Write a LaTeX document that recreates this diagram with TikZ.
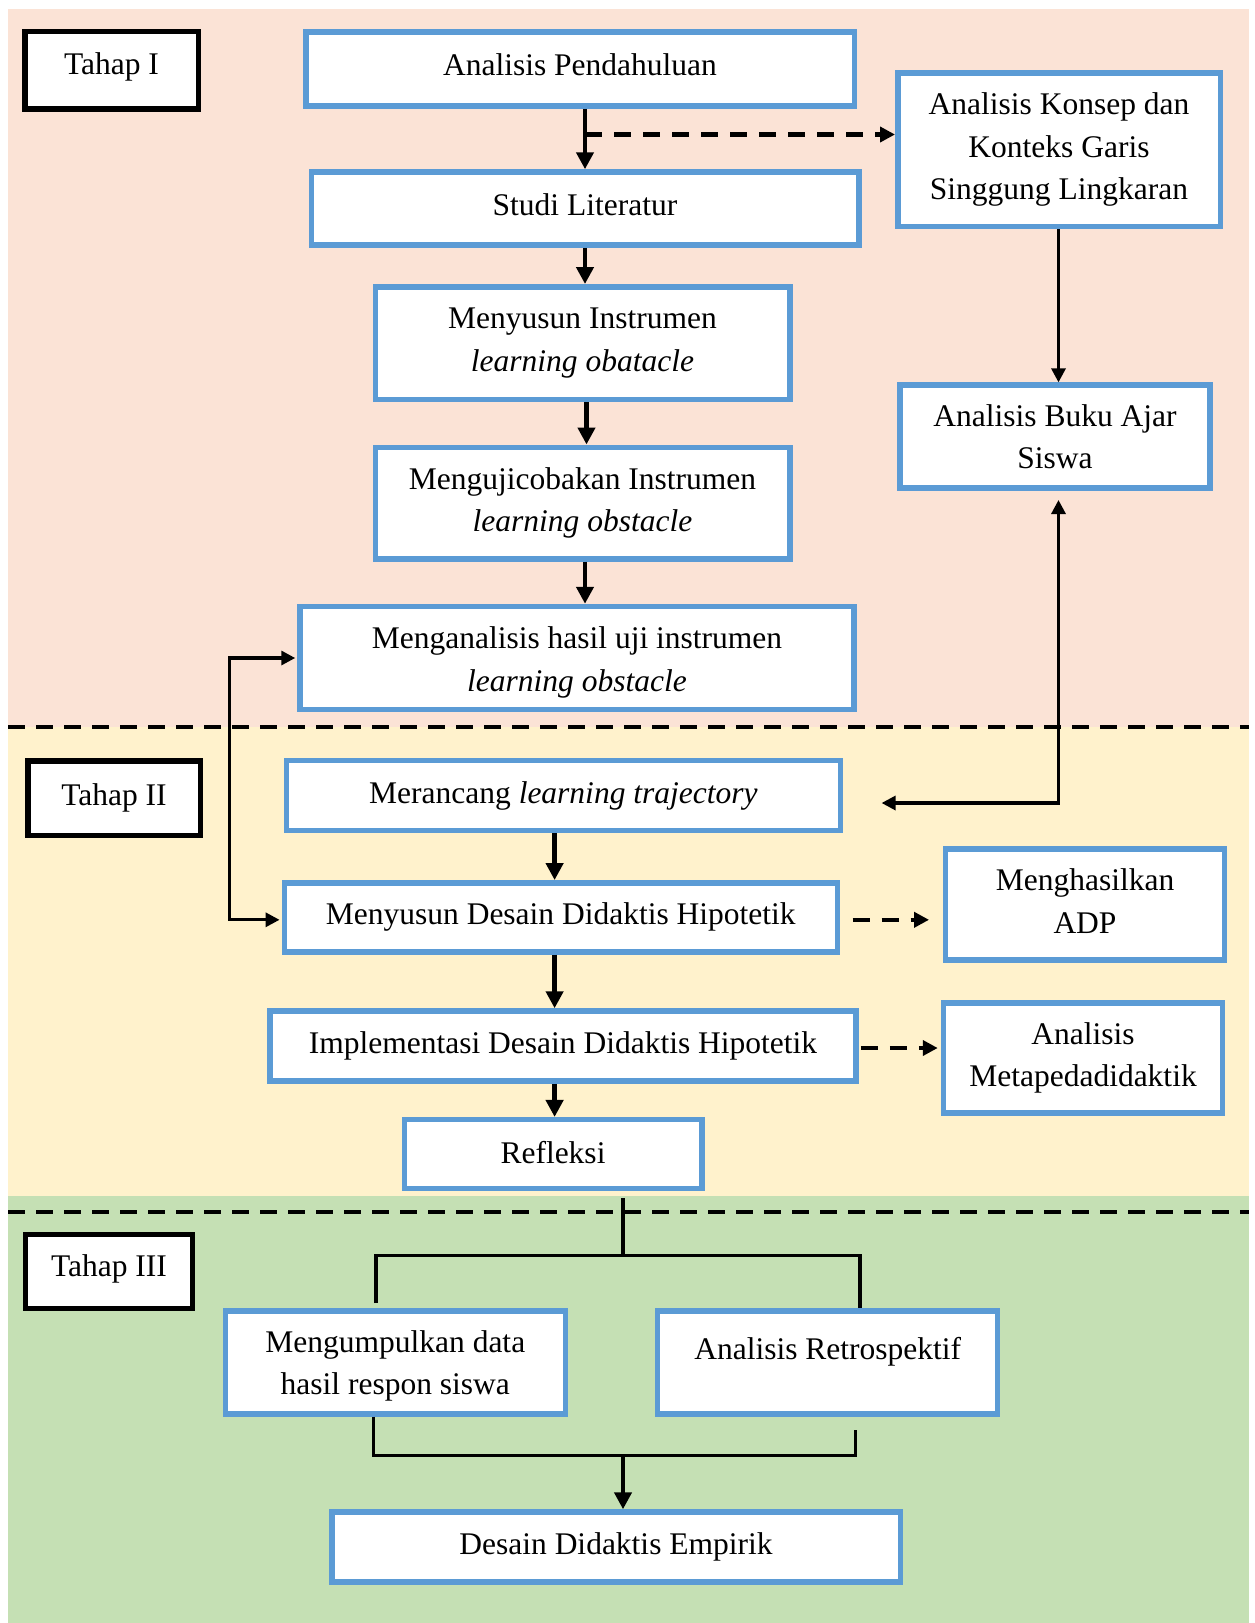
\documentclass[tikz,border=0pt]{standalone}
\usepackage{fontspec}
\setmainfont{Liberation Serif}
\usetikzlibrary{arrows.meta,calc}
\definecolor{pinkbg}{HTML}{FBE3D6}
\definecolor{yellowbg}{HTML}{FFF2CC}
\definecolor{greenbg}{HTML}{C5E0B4}
\definecolor{boxblue}{HTML}{5B9BD5}
\tikzset{
  txt/.style={font=\fontsize{31.5}{42.5}\selectfont},
  bluebox/.style={txt, draw=boxblue, line width=5.5pt, fill=white, align=center, inner sep=0pt},
  tahapbox/.style={txt, draw=black, line width=5.5pt, fill=white, align=center, inner sep=0pt},
  flow/.style={line width=4.5pt, -{Triangle[length=17pt,width=17pt]}},
  thinflow/.style={line width=3.2pt, -{Triangle[length=14pt,width=14pt]}},
  thinboth/.style={line width=3.2pt, {Triangle[length=14pt,width=14pt]}-{Triangle[length=14pt,width=14pt]}},
  dashflow/.style={line width=4.5pt, dash pattern=on 17pt off 12pt, -{Triangle[length=15pt,width=15pt]}},
  sepline/.style={line width=4.3pt, dash pattern=on 17pt off 11pt},
  bracket/.style={line width=3.5pt},
}
\begin{document}
\begin{tikzpicture}[x=1pt,y=-1pt]
\useasboundingbox (0,0) rectangle (1254,1623);
% backgrounds
\fill[pinkbg] (8,9) rectangle (1249,727);
\fill[yellowbg] (8,727) rectangle (1249,1196);
\fill[greenbg] (8,1196) rectangle (1249,1623);
\draw[sepline] (8,727) -- (1249,727);
\draw[sepline] (8,1212) -- (1249,1212);

% Tahap I
\node[tahapbox, minimum width=173.5pt, minimum height=77.5pt, text depth=12.8pt] (t1) at (111.5,70) {Tahap I};
\node[bluebox, minimum width=548.5pt, minimum height=74pt, text depth=8pt] (pend) at (580,69) {Analisis Pendahuluan};
\node[bluebox, minimum width=547.5pt, minimum height=73pt, text depth=8pt] (studi) at (585,208.5) {Studi Literatur};
\node[bluebox, minimum width=322.5pt, minimum height=153.5pt] (konsep) at (1059,149.5) {Analisis Konsep dan\\Konteks Garis\\Singgung Lingkaran};
\node[bluebox, minimum width=414.5pt, minimum height=112.5pt] (susun) at (582.5,343) {Menyusun Instrumen\\\textit{learning obatacle}};
\node[bluebox, minimum width=414.5pt, minimum height=111.5pt] (uji) at (582.5,503) {Mengujicobakan Instrumen\\\textit{learning obstacle}};
\node[bluebox, minimum width=554pt, minimum height=103pt, text height=73pt] (mengan) at (577,658) {Menganalisis hasil uji instrumen\\\textit{learning obstacle}};
\node[bluebox, minimum width=310pt, minimum height=103pt] (buku) at (1055,436.6) {Analisis Buku Ajar\\Siswa};

% Tahap II
\node[tahapbox, minimum width=172.5pt, minimum height=74.5pt] (t2) at (114,798) {Tahap II};
\node[bluebox, minimum width=554pt, minimum height=70pt] (rancang) at (563.4,795.7) {Merancang \textit{learning trajectory}};
\node[bluebox, minimum width=553pt, minimum height=69pt] (desain) at (560.8,917.3) {Menyusun Desain Didaktis Hipotetik};
\node[bluebox, minimum width=279pt, minimum height=111pt, text depth=6pt] (adp) at (1085,904.3) {Menghasilkan\\ADP};
\node[bluebox, minimum width=586pt, minimum height=70pt] (impl) at (563,1046) {Implementasi Desain Didaktis Hipotetik};
\node[bluebox, minimum width=279pt, minimum height=110pt] (meta) at (1083,1058) {Analisis\\Metapedadidaktik};
\node[bluebox, minimum width=297.5pt, minimum height=69pt, text depth=4pt] (refl) at (553,1154.2) {Refleksi};

% Tahap III
\node[tahapbox, minimum width=167pt, minimum height=74pt, text depth=11.8pt] (t3) at (109,1271.7) {Tahap III};
\node[bluebox, minimum width=340pt, minimum height=103pt, text height=71pt] (kumpul) at (395.3,1362.7) {Mengumpulkan data\\hasil respon siswa};
\node[bluebox, minimum width=340pt, minimum height=103pt] (retro) at (827.7,1362.7) {};
\node[txt] (retrotxt) at ($(retro)+(0,-11)$) {Analisis Retrospektif};
\node[bluebox, minimum width=568.5pt, minimum height=70pt] (empirik) at (616,1547) {Desain Didaktis Empirik};

% connectors Tahap I
\draw[flow] (pend.south -| studi.north) -- (studi.north);
\coordinate (d1) at (585,134.5);
\draw[dashflow] (d1) -- (d1 -| konsep.west);
\draw[flow] (studi.south) -- (studi.south |- susun.north);
\draw[flow] ($(susun.south)+(4,0)$) -- ($(uji.north)+(4,0)$);
\draw[flow] (uji.south -| studi.south) -- (mengan.north -| studi.south);
\draw[thinflow] ($(konsep.south)+(-0.5,0)$) -- ($(konsep.south |- buku.north)+(-0.5,0)$);
\coordinate (bk) at (1058.5,500);
\coordinate (mr) at (881.6,803);
\draw[thinboth] (bk) |- (mr);
\coordinate (lp) at (229.7,658);
\draw[thinboth] ($(mengan.west)+(-2,0)$) -- (lp) |- ($(desain.west)+(-2,2.5)$);

% connectors Tahap II
\coordinate (colB) at (554.6,0);
\draw[flow] (rancang.south -| colB) -- (desain.north -| colB);
\draw[flow] (desain.south -| colB) -- (impl.north -| colB);
\draw[flow] (impl.south -| colB) -- (refl.north -| colB);
\draw[dashflow] ($(desain.east)+(12.5,2.5)$) -- ($(adp.west |- desain.east)+(-13.7,2.5)$);
\draw[dashflow] ($(impl.east)+(2,2)$) -- ($(meta.west |- impl.east)+(-3,2)$);

% connectors Tahap III
\coordinate (rb) at (623,1198);
\coordinate (br) at (623,1257);
\draw[bracket] (rb) -- (br);
\coordinate (bl) at (376,1303);
\draw[bracket] (bl) |- ($(retro.north)+(32.3,-53)$) -- ($(retro.north)+(32.3,0)$);
\coordinate (bm) at (623,1454);
\draw[bracket] ($(kumpul.south)+(-21.8,0)$) |- ($(retro.south)+(28,38.5)$) -- ($(retro.south)+(28,13)$);
\draw[flow] (bm) -- (bm |- empirik.north);
\end{tikzpicture}
\end{document}
